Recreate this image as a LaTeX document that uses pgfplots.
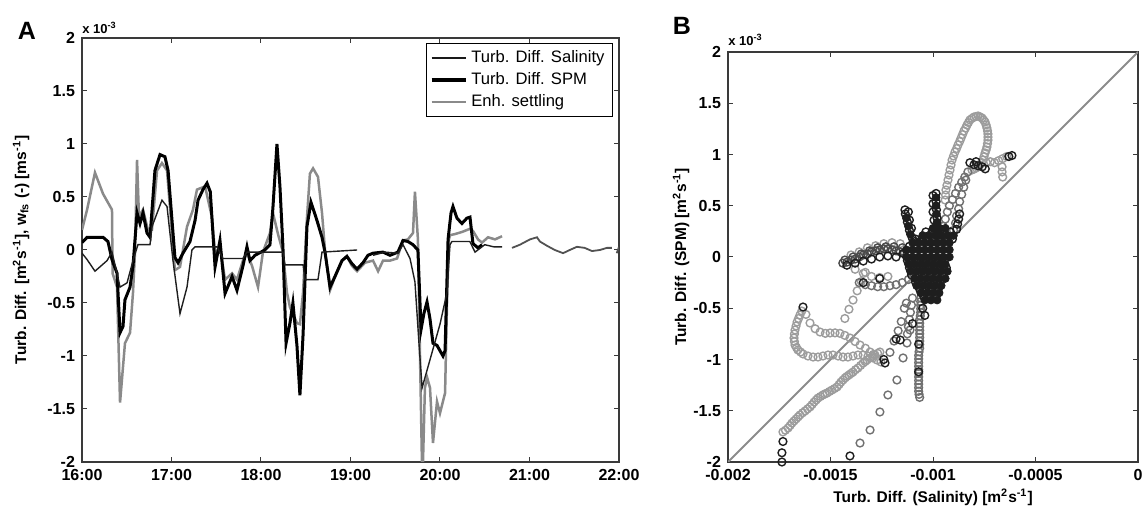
\documentclass[border=0pt]{standalone}
\usepackage{pgfplots}
\pgfplotsset{compat=1.18}
\usepackage{fontspec}
\setmainfont{Liberation Sans}
\definecolor{axgray}{HTML}{3A3A3A}
\definecolor{enh}{HTML}{8A8A8A}
\definecolor{lightc}{HTML}{9C9C9C}
\definecolor{midc}{HTML}{707070}
\definecolor{middark}{HTML}{4A4A4A}
\definecolor{darkc}{HTML}{1E1E1E}
\definecolor{diag}{HTML}{8C8C8C}
\pgfplotsset{
  mystyle/.style={scale only axis, anchor=south west,
    tick align=inside, tick pos=both, major tick length=2.5pt,
    axis line style={draw=axgray, line width=0.55pt},
    every tick/.style={draw=axgray, line width=0.5pt},
    tick label style={font=\fontsize{8}{9}\selectfont\bfseries, text=black},
    /pgf/number format/assume math mode=true,
    ymin=-2, ymax=2,
    ytick={-2,-1.5,-1,-0.5,0,0.5,1,1.5,2},
    yticklabels={-2,-1.5,-1,-0.5,0,0.5,1,1.5,2}},
  sc/.style={only marks, mark=o, mark size=1.95pt, mark options={line width=0.7pt}, forget plot}
}
\begin{document}
\begin{tikzpicture}
\useasboundingbox (0,0) rectangle (571pt,254.5pt);
% ---------------- Panel A ----------------
\begin{axis}[mystyle, at={(41pt,23.5pt)}, width=268.5pt, height=212pt,
  xmin=0, xmax=360, xtick={0,60,120,180,240,300,360},
  xticklabels={16:00,17:00,18:00,19:00,20:00,21:00,22:00},
  unbounded coords=jump,
  legend style={at={(1,1)}, anchor=north east, xshift=-3pt, yshift=-2.5pt,
    draw=black, line width=0.5pt, font=\fontsize{8.3}{9.5}\selectfont,
    inner xsep=2pt, inner ysep=1.5pt, row sep=-0.5pt, cells={anchor=west}},
  legend image code/.code={\draw[#1] (0pt,0pt) -- (17pt,0pt);}]
\addlegendimage{color=black!90, line width=0.9pt}
\addlegendentry{Turb. Diff. Salinity}
\addlegendimage{color=black, line width=1.6pt}
\addlegendentry{Turb. Diff. SPM}
\addlegendimage{color=enh, line width=1.3pt}
\addlegendentry{Enh. settling}
% Enh. settling
\addplot[color=enh, line width=1.25pt, forget plot] coordinates {
(0,0.19) (3.4,0.38) (8.7,0.73) (14.1,0.53) (20.1,0.38) (20.5,-0.22) (23.5,-0.35)
(25.5,-1.44) (28.8,-0.88) (32.2,-0.78) (34.2,-0.4) (35.5,-0.03) (36.9,0.85)
(38.2,0.31) (40.9,0.38) (44.2,0.19) (46.9,0.19) (50.3,0.75) (53.6,0.82) (57.0,0.75)
(62.3,-0.19) (65.7,-0.16) (70.4,0.22) (74.4,0.38) (77.1,0.57) (82.5,0.6) (87.1,0.31)
(89.2,-0.03) (92.5,0.03) (95.9,-0.28) (100.6,-0.22) (103.9,-0.28) (107.9,-0.1)
(110.6,-0.03) (114,-0.15) (118,-0.35) (121.3,-0.02) (126,0.16) (128,0.35) (131.4,0.15)
(134.7,-0.02) (137.4,-0.4) (139.4,-0.54) (141.4,-0.6) (144.1,-0.69) (146.1,-0.7)
(148.2,-0.4) (150.8,0.3) (152.8,0.72) (154.9,0.77) (158.2,0.69) (160.9,0.35)
(162.9,0.0) (166.3,-0.38) (169.6,-0.25) (174.3,-0.1) (177.6,-0.06) (181,-0.15)
(184.4,-0.2) (189.7,-0.12) (195.1,-0.1) (198.5,-0.2) (201.8,-0.1) (206.5,-0.1)
(211.2,-0.08) (215.2,0.09) (218.5,0.1) (221.9,0.16) (223.2,0.55) (225.2,0.1)
(226.6,-1.0) (227.9,-2.0) (228.6,-2.0) (229.9,-1.3) (231.3,-1.2) (233.3,-1.3)
(235.3,-1.82) (238,-1.43) (240,-1.54) (243.4,-1.35) (244.7,-0.5) (246,0.1)
(246.7,0.14) (250,0.15) (254.7,0.17) (260.1,0.2) (262.1,0.18) (265.5,0.1)
(268.2,0.07) (272.2,0.12) (276.9,0.1) (281.6,0.13)
};
% SPM
\addplot[color=black, line width=1.5pt, forget plot] coordinates {
(0,0.07) (3.4,0.12) (14.1,0.12) (17.4,0.08) (20.1,-0.09) (23.5,-0.22) (25.5,-0.78)
(27.5,-0.72) (28.8,-0.47) (32.2,-0.35) (34.2,-0.15) (36.9,0.35) (38.9,0.25)
(40.9,0.35) (43.6,0.16) (45.6,0.12) (48.9,0.75) (52.3,0.9) (55.6,0.88) (57.7,0.75)
(62.3,-0.07) (64.4,-0.12) (67.7,-0.03) (72.4,0.08) (75.8,0.28) (77.8,0.47)
(81.1,0.57) (83.8,0.63) (86,0.55) (89.2,-0.16) (92.5,0.09) (95.9,-0.41)
(100.6,-0.25) (103.9,-0.38) (107.9,-0.15) (110.6,0.03) (112.6,-0.1) (116,-0.05)
(122.6,0.0) (126,0.05) (128,0.4) (130.7,1.0) (132.7,0.6) (134.7,0.03) (136.8,-0.88)
(139.4,-0.69) (141.4,-0.5) (144.1,-0.9) (146.1,-1.37) (148.2,-0.8) (150.8,0.22)
(153.5,0.45) (157.5,0.28) (160.9,0.12) (162.9,-0.02) (166.3,-0.35) (169.6,-0.25)
(174.3,-0.1) (177.6,-0.06) (181,-0.13) (184.4,-0.18) (188.4,-0.12) (191.7,-0.05)
(195.1,-0.03) (201.8,-0.02) (206.5,-0.05) (211.8,-0.02) (215.2,0.09) (218.5,0.08)
(221.9,0.05) (225.2,0.0) (227.3,-0.75) (229.2,-0.6) (231.3,-0.49) (233.3,-0.65)
(235.3,-0.88) (238,-0.9) (242,-1.0) (243.4,-0.95) (245.4,0.1) (247.4,0.35)
(248.7,0.41) (251.4,0.3) (254.7,0.25) (258,0.3) (260.1,0.31) (262.1,0.06)
(265.5,0.02) (268.2,0.05)
};
% Salinity
\addplot[color=black!88, line width=0.7pt, forget plot] coordinates {
(0,-0.03) (3.4,-0.09) (8.7,-0.2) (16.8,-0.1) (20.1,-0.02) (23.5,-0.22) (25.5,-0.35)
(30.2,-0.31) (34.2,-0.1) (37.5,0.05) (45.6,0.05) (46.9,0.22) (53.6,0.47) (57.0,0.41)
(61.0,-0.1) (65.7,-0.6) (70.4,-0.35) (73.7,0.0) (75.8,0.03) (90.5,0.03) (94.5,-0.08)
(107.9,-0.08) (110.6,-0.02) (134.7,-0.02) (136.1,-0.14) (148.2,-0.14) (149.5,-0.28)
(158.2,-0.28) (160.9,-0.02) (184.4,0.0) (nan,nan)
(195.1,-0.05) (203,-0.02) (211.8,-0.03) (215.2,0.05) (219.9,-0.08) (223.2,-0.3)
(226,-0.9) (228,-1.3) (230,-1.2) (235,-0.95) (240,-0.7) (244.7,-0.4) (246.7,0.05)
(248,0.08) (255,0.08) (260,0.08) (263.5,-0.02) (270,0.05) (276,0.03) (281.6,0.03)
};
\addplot[color=black!68, line width=0.9pt, forget plot] coordinates {
(288.3,0.02) (293.6,0.05) (300.3,0.1) (305,0.12) (307,0.08) (311.7,0.04) (317,0.0)
(322.5,-0.03) (327,0.0) (331.8,0.03) (337,0.02) (341.9,-0.01) (347.2,0.0)
(351.9,0.02) (355.3,0.02) (nan,nan) (358.5,-0.03) (360,0.03)
};
\end{axis}
% ---------------- Panel B ----------------
\begin{axis}[mystyle, at={(364pt,23.5pt)}, width=205pt, height=205pt,
  xmin=-2, xmax=0, xtick={-2,-1.5,-1,-0.5,0},
  xticklabels={-0.002,-0.0015,-0.001,-0.0005,0}]
% light
\addplot[sc, draw=lightc] coordinates {
(-1.732,-1.707) (-1.707,-1.668) (-1.688,-1.620) (-1.668,-1.580) (-1.649,-1.541)
(-1.624,-1.502) (-1.6,-1.463) (-1.580,-1.415) (-1.561,-1.376) (-1.537,-1.346)
(-1.517,-1.327) (-1.493,-1.298) (-1.468,-1.268) (-1.449,-1.220) (-1.429,-1.180)
(-1.410,-1.151) (-1.390,-1.122) (-1.366,-1.083) (-1.341,-1.034) (-1.322,-1.005)
(-1.307,-0.985) (-1.283,-0.956) (-1.259,-0.927)
(-1.72,-1.69) (-1.697,-1.644) (-1.678,-1.60) (-1.658,-1.56) (-1.636,-1.52)
(-1.612,-1.482) (-1.59,-1.44) (-1.57,-1.395) (-1.549,-1.361) (-1.527,-1.336)
(-1.505,-1.312) (-1.48,-1.283) (-1.458,-1.244) (-1.439,-1.2) (-1.42,-1.165)
(-1.40,-1.136) (-1.378,-1.10) (-1.353,-1.058) (-1.331,-1.02) (-1.295,-0.97) (-1.27,-0.94)
(-1.649,-0.566) (-1.663,-0.634) (-1.673,-0.712) (-1.678,-0.790) (-1.673,-0.859)
(-1.659,-0.907) (-1.634,-0.946) (-1.610,-0.966) (-1.585,-0.976) (-1.561,-0.976)
(-1.537,-0.966) (-1.512,-0.956) (-1.488,-0.956) (-1.463,-0.966) (-1.439,-0.976)
(-1.415,-0.976) (-1.39,-0.966) (-1.366,-0.956) (-1.341,-0.956) (-1.317,-0.966)
(-1.293,-0.985) (-1.273,-1.005) (-1.254,-1.024)
(-1.64,-0.527) (-1.656,-0.60) (-1.668,-0.673) (-1.676,-0.751) (-1.676,-0.825)
(-1.666,-0.883) (-1.646,-0.927)
(-1.62,-0.56) (-1.60,-0.644) (-1.575,-0.70) (-1.551,-0.732) (-1.525,-0.745)
(-1.502,-0.741) (-1.478,-0.74) (-1.454,-0.745) (-1.43,-0.765) (-1.405,-0.790)
(-1.38,-0.825) (-1.356,-0.859) (-1.33,-0.89) (-1.307,-0.927) (-1.29,-0.95)
(-1.33,-0.15) (-1.35,-0.24) (-1.37,-0.33) (-1.39,-0.42) (-1.41,-0.51) (-1.43,-0.60)
(-1.38,-0.12) (-1.34,-0.16) (-1.30,-0.19) (-1.26,-0.2) (-1.22,-0.19)
(-1.40,0.02) (-1.36,0.05) (-1.32,0.09) (-1.28,0.11) (-1.24,0.13) (-1.20,0.14) (-1.16,0.13)
(-0.941,0.556) (-0.937,0.654) (-0.927,0.751) (-0.917,0.849) (-0.907,0.946)
(-0.893,1.024) (-0.878,1.093) (-0.863,1.161) (-0.849,1.229) (-0.834,1.288)
(-0.820,1.337) (-0.800,1.366) (-0.780,1.376) (-0.761,1.356) (-0.746,1.317)
(-0.737,1.259) (-0.732,1.2) (-0.732,1.141) (-0.737,1.073) (-0.746,1.015)
(-0.756,0.946) (-0.771,0.898) (-0.790,0.868) (-0.810,0.849)
(-0.939,0.605) (-0.932,0.70) (-0.922,0.80) (-0.912,0.898) (-0.90,0.985)
(-0.885,1.058) (-0.87,1.127) (-0.856,1.195) (-0.841,1.258) (-0.827,1.312)
(-0.81,1.352) (-0.79,1.371) (-0.77,1.366) (-0.753,1.336) (-0.741,1.288)
(-0.734,1.23) (-0.732,1.17) (-0.734,1.107) (-0.741,1.044) (-0.751,0.98)
(-0.763,0.922) (-0.78,0.883) (-0.80,0.858)
(-0.74,0.92) (-0.72,0.93) (-0.70,0.92) (-0.68,0.94) (-0.66,0.96) (-0.64,0.98)
(-0.663,0.88) (-0.663,0.83) (-0.66,0.78)
};
% medium
\addplot[sc, draw=midc] coordinates {
(-0.95,0.30) (-0.94,0.37) (-0.93,0.44) (-0.92,0.50) (-0.905,0.56) (-0.89,0.62)
(-0.875,0.68) (-0.86,0.73) (-0.845,0.78) (-0.83,0.83)
(-0.90,0.26) (-0.89,0.33) (-0.885,0.40) (-0.875,0.47) (-0.87,0.54) (-0.86,0.61)
(-0.85,0.68) (-0.84,0.75)
(-1.36,-0.25) (-1.33,-0.27) (-1.30,-0.28) (-1.27,-0.29) (-1.24,-0.29) (-1.21,-0.28)
(-1.18,-0.27) (-1.15,-0.25) (-1.12,-0.22)
(-1.06,-0.40) (-1.06,-0.47) (-1.06,-0.54) (-1.065,-0.61) (-1.065,-0.68) (-1.065,-0.75)
(-1.065,-0.82) (-1.065,-0.89) (-1.07,-0.96) (-1.07,-1.03) (-1.07,-1.10) (-1.07,-1.17)
(-1.07,-1.24) (-1.07,-1.31) (-1.065,-1.37)
(-1.06,-0.435) (-1.06,-0.505) (-1.062,-0.575) (-1.065,-0.645) (-1.065,-0.715)
(-1.065,-0.785) (-1.065,-0.855) (-1.068,-0.925) (-1.07,-0.995) (-1.07,-1.065)
(-1.07,-1.135) (-1.07,-1.205) (-1.07,-1.275) (-1.068,-1.34)
(-1.10,-0.40) (-1.105,-0.47) (-1.11,-0.54) (-1.115,-0.61) (-1.12,-0.68) (-1.125,-0.75)
(-1.21,-0.93) (-1.19,-0.82) (-1.17,-0.72) (-1.155,-0.63) (-1.14,-0.5) (-1.13,-0.45)
(-1.356,-1.815) (-1.307,-1.688) (-1.259,-1.512) (-1.220,-1.346) (-1.176,-1.2)
(-1.146,-0.985) (-1.127,-0.839) (-1.112,-0.712)
};
% medium dark
\addplot[sc, draw=middark] coordinates {
(-1.44,-0.06) (-1.42,-0.05) (-1.40,-0.03) (-1.38,-0.02) (-1.36,0.0) (-1.34,0.02)
(-1.32,0.03) (-1.30,0.05) (-1.28,0.06) (-1.26,0.07) (-1.24,0.08) (-1.22,0.08)
(-1.20,0.07) (-1.18,0.06) (-1.16,0.05) (-1.14,0.04)
(-1.43,-0.03) (-1.39,0.0) (-1.35,0.03) (-1.31,0.06) (-1.27,0.09) (-1.23,0.10) (-1.19,0.10) (-1.15,0.09)
};
% dark core (saturated, filled)
\addplot[only marks, mark=*, mark size=1.95pt, draw=darkc, fill=darkc, forget plot] coordinates {
(-1.00,0.28) (-0.97,0.28) (-0.94,0.28)
(-1.05,0.21) (-1.02,0.21) (-0.99,0.21) (-0.96,0.21) (-0.93,0.21) (-0.90,0.21)
(-1.10,0.14) (-1.07,0.14) (-1.04,0.14) (-1.01,0.14) (-0.98,0.14) (-0.95,0.14) (-0.92,0.14)
(-1.13,0.07) (-1.10,0.07) (-1.07,0.07) (-1.04,0.07) (-1.01,0.07) (-0.98,0.07) (-0.95,0.07) (-0.92,0.07)
(-1.13,0.00) (-1.10,0.00) (-1.07,0.00) (-1.04,0.00) (-1.01,0.00) (-0.98,0.00) (-0.95,0.00) (-0.92,0.00)
(-1.12,-0.07) (-1.09,-0.07) (-1.06,-0.07) (-1.03,-0.07) (-1.00,-0.07) (-0.97,-0.07) (-0.94,-0.07)
(-1.11,-0.14) (-1.08,-0.14) (-1.05,-0.14) (-1.02,-0.14) (-0.99,-0.14) (-0.96,-0.14) (-0.93,-0.14)
(-1.09,-0.21) (-1.06,-0.21) (-1.03,-0.21) (-1.00,-0.21) (-0.97,-0.21) (-0.94,-0.21)
(-1.08,-0.28) (-1.05,-0.28) (-1.02,-0.28) (-0.99,-0.28) (-0.96,-0.28)
(-1.06,-0.35) (-1.03,-0.35) (-1.00,-0.35) (-0.97,-0.35)
(-1.04,-0.42) (-1.01,-0.42) (-0.98,-0.42)
(-0.985,0.58) (-0.985,0.50) (-0.983,0.42) (-0.98,0.34) (-0.975,0.26)
(-1.13,0.38) (-1.12,0.30) (-1.11,0.22)
};
% dark
\addplot[sc, draw=darkc] coordinates {
(-1.634,-0.488) (-1.234,-1.034) (-1.24,-1.0) (-1.18,-0.80) (-1.16,-0.81)
(-1.10,-0.65) (-1.07,-0.85) (-1.07,-1.12) (-1.05,-0.50) (-1.04,-0.57)
(-1.732,-1.80) (-1.737,-1.91) (-1.737,-2.0) (-1.405,-1.941)
(-1.34,-0.25) (-1.26,-0.21)
(-1.42,-0.08) (-1.38,-0.06) (-1.34,-0.04) (-1.30,-0.02) (-1.26,0.0) (-1.22,0.01) (-1.18,0.0)
(-0.82,0.92) (-0.80,0.90) (-0.78,0.89) (-0.76,0.88) (-0.745,0.86) (-0.79,0.93)
(-0.615,0.99) (-0.63,0.98)
(-0.985,0.62) (-0.985,0.54) (-0.983,0.46)
(-0.98,0.38) (-0.978,0.30) (-0.97,0.22) (-0.965,0.18)
(-1.0,0.60) (-1.0,0.52) (-1.0,0.44) (-0.995,0.36) (-0.99,0.28)
(-0.87,0.42) (-0.875,0.37) (-0.88,0.32) (-0.885,0.27)
(-1.137,0.46) (-1.135,0.42) (-1.125,0.34) (-1.115,0.26)
(-1.10,0.18) (-1.09,0.15) (-1.12,0.44) (-1.115,0.36) (-1.105,0.28)
(-1.035,0.245) (-1.005,0.245) (-0.975,0.245) (-0.945,0.245) (-0.915,0.245)
(-1.085,0.175) (-1.055,0.175) (-1.025,0.175) (-0.995,0.175) (-0.965,0.175) (-0.935,0.175) (-0.905,0.175)
(-1.115,0.105) (-1.085,0.105) (-1.055,0.105) (-1.025,0.105) (-0.995,0.105) (-0.965,0.105) (-0.935,0.105)
(-1.145,0.035) (-1.115,0.035) (-1.085,0.035) (-1.055,0.035) (-1.025,0.035) (-0.995,0.035) (-0.965,0.035) (-0.935,0.035)
(-1.125,-0.035) (-1.095,-0.035) (-1.065,-0.035) (-1.035,-0.035) (-1.005,-0.035) (-0.975,-0.035) (-0.945,-0.035)
(-1.115,-0.105) (-1.085,-0.105) (-1.055,-0.105) (-1.025,-0.105) (-0.995,-0.105) (-0.965,-0.105) (-0.935,-0.105)
(-1.105,-0.175) (-1.075,-0.175) (-1.045,-0.175) (-1.015,-0.175) (-0.985,-0.175) (-0.955,-0.175)
(-1.085,-0.245) (-1.055,-0.245) (-1.025,-0.245) (-0.995,-0.245) (-0.965,-0.245)
(-1.065,-0.315) (-1.035,-0.315) (-1.005,-0.315) (-0.975,-0.315)
(-1.045,-0.385) (-1.015,-0.385) (-0.985,-0.385)
};
\addplot[color=diag, line width=1pt, forget plot] coordinates {(-2,-2) (0,2)};
\end{axis}
% ---------------- Texts ----------------
\node[font=\fontsize{12.5}{13}\selectfont\bfseries] at (13.5pt,239pt) {A};
\node[font=\fontsize{12.5}{13}\selectfont\bfseries] at (341pt,241.5pt) {B};
\node[anchor=west, inner sep=0pt, font=\fontsize{6.5}{7}\selectfont\bfseries] at (41pt,240.5pt) {x 10\textsuperscript{-3}};
\node[anchor=west, inner sep=0pt, font=\fontsize{6.5}{7}\selectfont\bfseries] at (364pt,234.5pt) {x 10\textsuperscript{-3}};
\node[rotate=90, font=\fontsize{7.75}{9}\selectfont\bfseries] at (10.5pt,129.5pt) {Turb. Diff. [m\textsuperscript{2}s\textsuperscript{-1}], w\textsubscript{fs} (-) [ms\textsuperscript{-1}]};
\node[rotate=90, font=\fontsize{7.75}{9}\selectfont\bfseries] at (340.5pt,126pt) {Turb. Diff. (SPM) [m\textsuperscript{2}s\textsuperscript{-1}]};
\node[font=\fontsize{7.75}{9}\selectfont\bfseries] at (466.5pt,6pt) {Turb. Diff. (Salinity) [m\textsuperscript{2}s\textsuperscript{-1}]};
\end{tikzpicture}
\end{document}
